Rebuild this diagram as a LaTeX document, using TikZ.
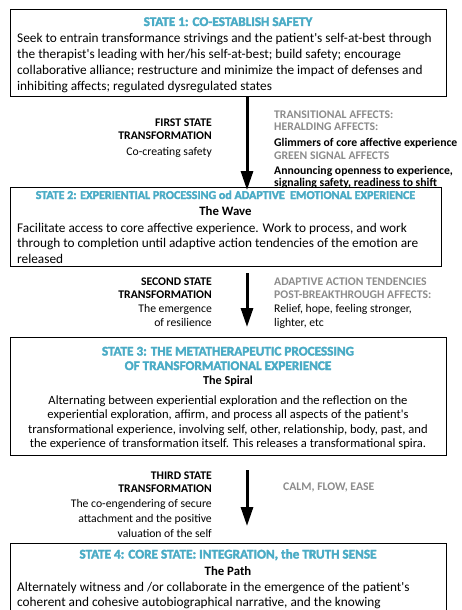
\documentclass[tikz,border=0pt]{standalone}
\usepackage{fontspec}
\setmainfont{Carlito}
\newfontfamily\heavyfont{Carlito}[FakeBold=2.5]
\usetikzlibrary{arrows.meta}
\definecolor{stateblue}{HTML}{4BACC6}
\definecolor{labelgray}{HTML}{8C8C8C}
\tikzset{
  statebox/.style={draw=black, line width=1.2pt, inner sep=0pt, anchor=north west, minimum width=436pt},
  title/.style={inner sep=0pt, anchor=base, text=stateblue, font=\fontsize{13.2}{14.5}\selectfont\heavyfont\bfseries},
  sub/.style={inner sep=0pt, anchor=base, font=\fontsize{12.8}{16}\selectfont\bfseries},
  bodyL/.style={inner sep=0pt, anchor=base west, font=\fontsize{13.3}{16.1}\selectfont},
  bodyC/.style={inner sep=0pt, anchor=base, font=\fontsize{12.6}{14.4}\selectfont},
  lab/.style={inner sep=0pt, font=\fontsize{11.7}{13}\selectfont},
  flow/.style={line width=3pt, -{Triangle[width=12pt,length=19pt]}},
}
\newcommand\gl[1]{\textcolor{labelgray}{\textbf{#1}}}
\newcommand\aps{\textquotesingle}
\begin{document}
\begin{tikzpicture}[x=1pt,y=-1pt]
\clip (0,0) rectangle (461,610);
\fill[white] (0,0) rectangle (461,610);
% boxes
\node[statebox, minimum height=87pt] (s1) at (10,9) {};
\node[statebox, minimum width=431pt, minimum height=79pt] (s2) at (10,187) {};
\node[statebox, minimum height=118pt] (s3) at (10,337) {};
\node[statebox, minimum height=110pt] (s4) at (10,543) {};
% arrows
\draw[flow] ([xshift=237pt]s1.south west) -- ([xshift=237pt,yshift=-3pt]s2.north west);
\draw[flow] ([xshift=237pt,yshift=-6pt]s2.south west) -- ([xshift=237pt,yshift=10pt]s3.north west);
\draw[flow] ([xshift=237pt,yshift=-14pt]s3.south west) -- ([xshift=237pt,yshift=17pt]s4.north west);
% state 1
\node[title] (t1) at (228,26) {STATE 1: CO-ESTABLISH SAFETY};
\node[bodyL] (b1) at (17,42.3) {\parbox[t]{460pt}{\raggedright
Seek to entrain transformance strivings and the patient\aps s self-at-best through\\
the therapist\aps s leading with her/his self-at-best; build safety; encourage\\
collaborative alliance; restructure and minimize the impact of defenses and\\
inhibiting affects; regulated dysregulated states}};
% transition 1
\node[lab, anchor=base east] (l1) at (212,126) {\parbox[t]{200pt}{\raggedleft
\textbf{FIRST STATE}\\
\textbf{TRANSFORMATION}\\[3pt]
Co-creating safety}};
\node[lab, anchor=base west] (r1) at (274,118) {\parbox[t]{250pt}{\raggedright\baselineskip=12pt
\gl{TRANSITIONAL AFFECTS:}\\
\gl{HERALDING AFFECTS:}\\[4pt]
\textbf{Glimmers of core affective experience}\\[1pt]
\gl{GREEN SIGNAL AFFECTS}\\[3pt]
\textbf{Announcing openness to experience,}\\
\textbf{signaling safety, readiness to shift}}};
% state 2
\node[title, font=\fontsize{12}{14}\selectfont\heavyfont\bfseries] (t2) at (225.5,199) {STATE 2: EXPERIENTIAL PROCESSING od ADAPTIVE\ \ EMOTIONAL EXPERIENCE};
\node[sub] (w2) at (225.5,215.5) {The Wave};
\node[bodyL] (b2) at (17,232) {\parbox[t]{460pt}{\raggedright\baselineskip=15.5pt
Facilitate access to core affective experience. Work to process, and work\\
through to completion until adaptive action tendencies of the emotion are\\
released}};
% transition 2
\node[lab, anchor=base east] (l2) at (212,285) {\parbox[t]{200pt}{\raggedleft
\textbf{SECOND STATE}\\
\textbf{TRANSFORMATION}\\[1pt]
The emergence\\[1pt]
of resilience}};
\node[lab, anchor=base west] (r2) at (274,285) {\parbox[t]{250pt}{\raggedright
\gl{ADAPTIVE ACTION TENDENCIES}\\
\gl{POST-BREAKTHROUGH AFFECTS:}\\[1pt]
Relief, hope, feeling stronger,\\[1pt]
lighter, etc}};
% state 3
\node[title] (t3) at (228,355.5) {\parbox[t]{436pt}{\centering\baselineskip=14.5pt
STATE 3: THE METATHERAPEUTIC PROCESSING\\
OF TRANSFORMATIONAL EXPERIENCE}};
\node[sub, font=\fontsize{12.2}{16}\selectfont\bfseries] (w3) at (228,384.5) {The Spiral};
\node[bodyC] (b3) at (228,404.5) {\parbox[t]{450pt}{\centering
Alternating between experiential exploration and the reflection on the\\
experiential exploration, affirm, and process all aspects of the patient\aps s\\
transformational experience, involving self, other, relationship, body, past, and\\
the experience of transformation itself. This releases a transformational spira.}};
% transition 3
\node[lab, anchor=base east] (l3) at (212,479) {\parbox[t]{200pt}{\raggedleft\baselineskip=15pt
\textbf{THIRD STATE}\\[-2pt]
\textbf{TRANSFORMATION}\\
The co-engendering of secure\\
attachment and the positive\\
valuation of the self}};
\node[lab, anchor=base west] (r3) at (283,490) {\gl{CALM, FLOW, EASE}};
% state 4
\node[title] (t4) at (228,558.5) {STATE 4: CORE STATE: INTEGRATION, the TRUTH SENSE};
\node[sub] (w4) at (228,575) {The Path};
\node[bodyL] (b4) at (17,591.5) {\parbox[t]{460pt}{\raggedright\baselineskip=15pt
Alternately witness and /or collaborate in the emergence of the patient\aps s\\
coherent and cohesive autobiographical narrative, and the knowing}};
\end{tikzpicture}
\end{document}
